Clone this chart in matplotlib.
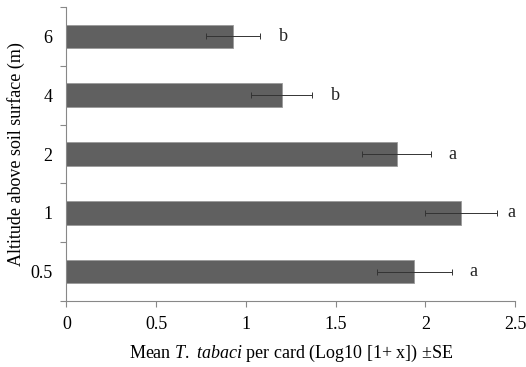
import matplotlib
matplotlib.use("Agg")
import matplotlib.pyplot as plt
import numpy as np

categories = ["0.5", "1", "2", "4", "6"]
means = [1.94, 2.20, 1.84, 1.20, 0.93]
se = [0.21, 0.20, 0.19, 0.17, 0.15]
letters = ["a", "a", "a", "b", "b"]
letter_offsets = [0.12, 0.08, 0.12, 0.13, 0.13]
xticks = [0, 0.5, 1, 1.5, 2, 2.5]
xticklabels = ["0", "0.5", "1", "1.5", "2", "2.5"]

plt.rcParams['font.family'] = ['Liberation Serif', 'DejaVu Serif']
plt.rcParams['mathtext.fontset'] = 'custom'
plt.rcParams['mathtext.rm'] = 'Liberation Serif'
plt.rcParams['mathtext.it'] = 'Liberation Serif:italic'

fs = 13
fig = plt.figure(figsize=(5.26, 3.67), dpi=100)
ax = fig.add_axes([0.1264, 0.1798, 0.8526, 0.801])

y = np.arange(len(categories))
ax.barh(y, means, height=0.4, color="#606060", edgecolor="#9a9a9a", linewidth=0.6, zorder=2)
ax.errorbar(means, y, xerr=se, fmt="none", ecolor="#333333", elinewidth=0.7,
            capsize=2, capthick=0.7, zorder=3)
for yi, m, s, l, o in zip(y, means, se, letters, letter_offsets):
    ax.text(m + s + o, yi, l, ha="center", va="center", fontsize=fs, color="#222222")

ax.set_xlim(0, 2.5)
ax.set_ylim(-0.5, len(categories) - 0.5)
ax.set_xticks(xticks)
ax.set_xticklabels(xticklabels, fontsize=fs)
ax.set_yticks(np.arange(-0.5, len(categories), 1.0))
ax.set_yticklabels([])
ax.set_yticks(y, minor=True)
ax.set_yticklabels(categories, minor=True, fontsize=fs)
ax.tick_params(axis="y", which="minor", length=0, pad=10)
ax.tick_params(axis="y", which="major", length=4, color="#888888", width=0.8)
ax.tick_params(axis="x", length=4, color="#888888", width=0.8, pad=7)

for s in ["top", "right"]:
    ax.spines[s].set_visible(False)
for s in ["left", "bottom"]:
    ax.spines[s].set_color("#888888")
    ax.spines[s].set_linewidth(0.8)

ax.set_xlabel("Mean $\\mathit{T.}$ $\\mathit{tabaci}$ per card (Log10 [1+ x]) ±SE", fontsize=fs, labelpad=7)
ax.set_ylabel("Altitude above soil surface (m)", fontsize=fs, labelpad=4)

fig.savefig("out.png", dpi=100)
